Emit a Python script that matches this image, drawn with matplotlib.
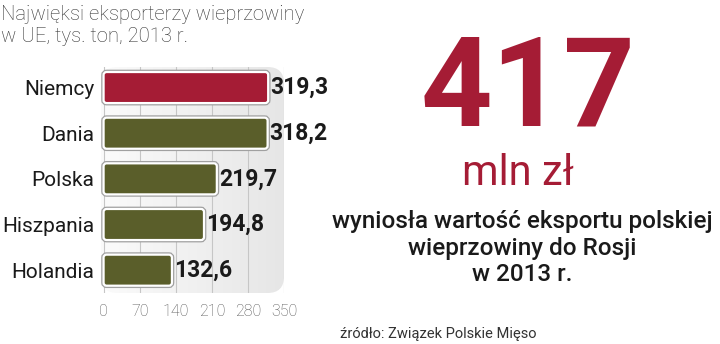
import matplotlib.pyplot as plt
import matplotlib.patheffects as pe
from matplotlib.colors import LinearSegmentedColormap
from matplotlib.patches import FancyBboxPatch
import numpy as np

# --------------------------------------------------------------------------
# data
# --------------------------------------------------------------------------

countries = ["Niemcy", "Dania", "Polska", "Hiszpania", "Holandia"]
values = [319.3, 318.2, 219.7, 194.8, 132.6]
value_labels = ["319,3", "318,2", "219,7", "194,8", "132,6"]
ticks = [0, 70, 140, 210, 280, 350]

title = "Najwięksi eksporterzy wieprzowiny\nw UE, tys. ton, 2013 r."
big_number = "417"
unit = "mln zł"
caption = "wyniosła wartość eksportu polskiej\nwieprzowiny do Rosji\nw 2013 r."
source = "źródło: Związek Polskie Mięso"

red = "#a51c35"
olive = "#5a5e2a"

# --------------------------------------------------------------------------
# plot
# --------------------------------------------------------------------------

fig = plt.figure(figsize=(7.2, 3.44), dpi=100)
fig.patch.set_facecolor("white")

ax_w, ax_h = 183, 226
ax = fig.add_axes([101 / 720, 1 - 293 / 344, ax_w / 720, ax_h / 344])
ax.set_facecolor("none")
for s in ax.spines.values():
    s.set_visible(False)

xmin, xmax = -5, 350
ymin, ymax = 4.5, -0.45
ax.set_xlim(xmin, xmax)
ax.set_ylim(ymin, ymax)

# light panel with rounded corner, white on the left fading to grey on the right
panel_cmap = LinearSegmentedColormap.from_list("panel", ["#fbfbfb", "#e6e6e6"])
grad = np.linspace(0, 1, 256).reshape(1, -1)
img = ax.imshow(grad, extent=[xmin, xmax, ymin, ymax], aspect="auto",
                cmap=panel_cmap, zorder=0)
panel = FancyBboxPatch((0, 0), 1, 1, boxstyle="round,pad=0,rounding_size=0.09",
                       mutation_aspect=ax_w / ax_h, transform=ax.transAxes,
                       facecolor="none", edgecolor="none")
ax.add_patch(panel)
img.set_clip_path(panel)

# rounded bars
colors = [red] + [olive] * (len(values) - 1)
px_x = (xmax - xmin) / ax_w
px_y = abs(ymin - ymax) / ax_h
bar_h = 0.68
for i, v in enumerate(values):
    bar = FancyBboxPatch((0, i - bar_h / 2), v, bar_h,
                         boxstyle="round,pad=0,rounding_size=%f" % (3 * px_x),
                         mutation_aspect=px_y / px_x,
                         facecolor=colors[i], edgecolor="white", linewidth=1.6,
                         zorder=3)
    bar.set_path_effects([pe.Stroke(linewidth=3.4, foreground="#a0a0a0"), pe.Normal()])
    ax.add_patch(bar)
    ax.text(v + 4, i, value_labels[i], va="center", ha="left", fontsize=16.5,
            fontweight="bold", family="Roboto", color="#1a1a1a", zorder=4)

ax.set_xticks(ticks)
ax.set_xticklabels([str(t) for t in ticks], family="Roboto", fontweight="light",
                   fontsize=11.5, color="#555555")
ax.set_yticks(range(len(countries)))
ax.set_yticklabels(countries, family="Roboto", fontsize=15, color="#1a1a1a")
ax.tick_params(length=0, pad=5)
ax.tick_params(axis="x", pad=8)
ax.grid(axis="x", color="#c6c6c6", linewidth=0.8, zorder=1)

fig.text(0.002, 0.985, title, ha="left", va="top", family="Roboto",
         fontweight="light", fontsize=14.6, color="#333333", linespacing=1.2)

fig.text(528 / 720, 1 - 125 / 344, big_number, ha="center", va="baseline",
         family="Roboto", fontweight="bold", fontsize=90, color=red)
fig.text(518 / 720, 1 - 185 / 344, unit, ha="center", va="baseline",
         family="Roboto", fontsize=30, color=red)
fig.text(522 / 720, 1 - 210 / 344, caption, ha="center", va="top",
         family="Roboto", fontweight="medium", fontsize=17.5, color="#1a1a1a",
         linespacing=1.2)
fig.text(340 / 720, 1 - 338 / 344, source, ha="left", va="baseline",
         family="Roboto", fontsize=10.5, color="#333333")

fig.savefig("out.png", dpi=100)
